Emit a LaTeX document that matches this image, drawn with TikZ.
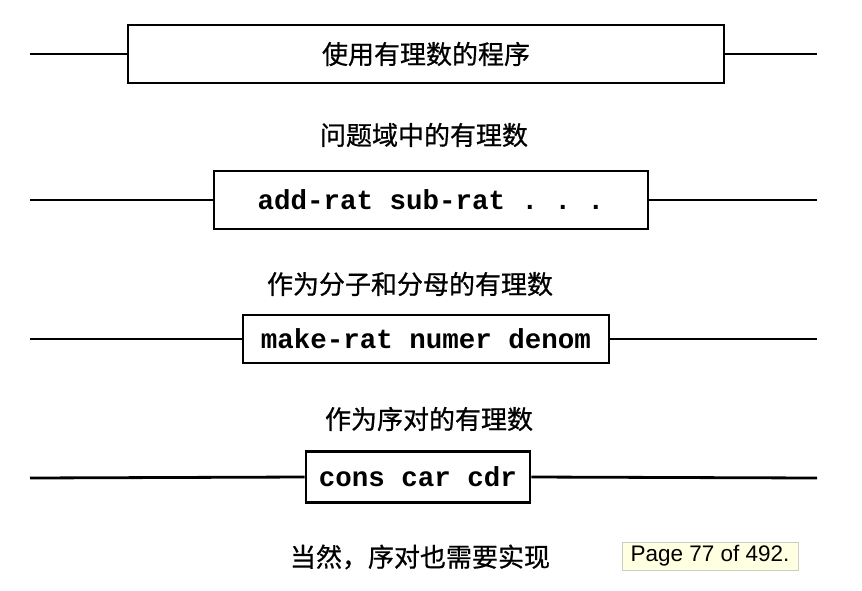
\documentclass[tikz,border=0pt]{standalone}
\usepackage{fontspec}
\newfontfamily\cjkfont{Noto Sans CJK SC}[FakeBold=0.7]
\setmonofont{Liberation Mono}
\setsansfont{Liberation Sans}
\usetikzlibrary{positioning}
\definecolor{tipfill}{RGB}{255,255,226}
\definecolor{tipline}{RGB}{205,205,195}
\tikzset{
  layer/.style    = {draw, line width=2.8pt, inner sep=0pt},
  textlayer/.style = {layer, font=\fontsize{26}{30}\selectfont\cjkfont},
  codelayer/.style = {layer, font=\fontsize{27.5}{30}\selectfont\ttfamily\bfseries},
  caption/.style  = {font=\fontsize{26}{30}\selectfont\cjkfont},
  wire/.style     = {line width=2.8pt},
  tooltip/.style  = {draw=tipline, fill=tipfill, line width=0.8pt, inner sep=0pt,
                     minimum width=176pt, minimum height=28pt,
                     font=\fontsize{22.5}{24}\selectfont\sffamily}
}

\begin{document}
\begin{tikzpicture}[x=1pt,y=-1pt]
\useasboundingbox (0,0) rectangle (862,590);

% --- abstraction layers (boxes) ---
\node[textlayer, minimum width=596pt, minimum height=58pt] (b1) at (426,54) {使用有理数的程序};
\node[codelayer, minimum width=434pt, minimum height=58pt] (b2) at (431,200) {add-rat sub-rat . . .};
\node[codelayer, minimum width=366pt, minimum height=48pt] (b3) at (426,339) {make-rat numer denom};
\node[codelayer, minimum width=224pt, minimum height=51pt] (b4) at (418,477) {cons car cdr};

% --- captions between layers ---
\node[caption] (c1) at (424,135) {问题域中的有理数};
\node[caption] (c2) at (410,284) {作为分子和分母的有理数};
\node[caption] (c3) at (429,419) {作为序对的有理数};
\node[caption] (c4) at (420,557) {当然，序对也需要实现};

% --- barrier lines through each box ---
\foreach \i/\y in {1/54, 2/200, 3/339, 4/478}{
  \coordinate (l\i) at (30,\y);
  \coordinate (r\i) at (817,\y);
  \draw[wire] (l\i) -- (b\i.west);
  \draw[wire] (b\i.east) -- (r\i);
}

% --- viewer page tooltip ---
\node[tooltip] (tip) at (710,556) {Page 77 of 492.};

\end{tikzpicture}
\end{document}
